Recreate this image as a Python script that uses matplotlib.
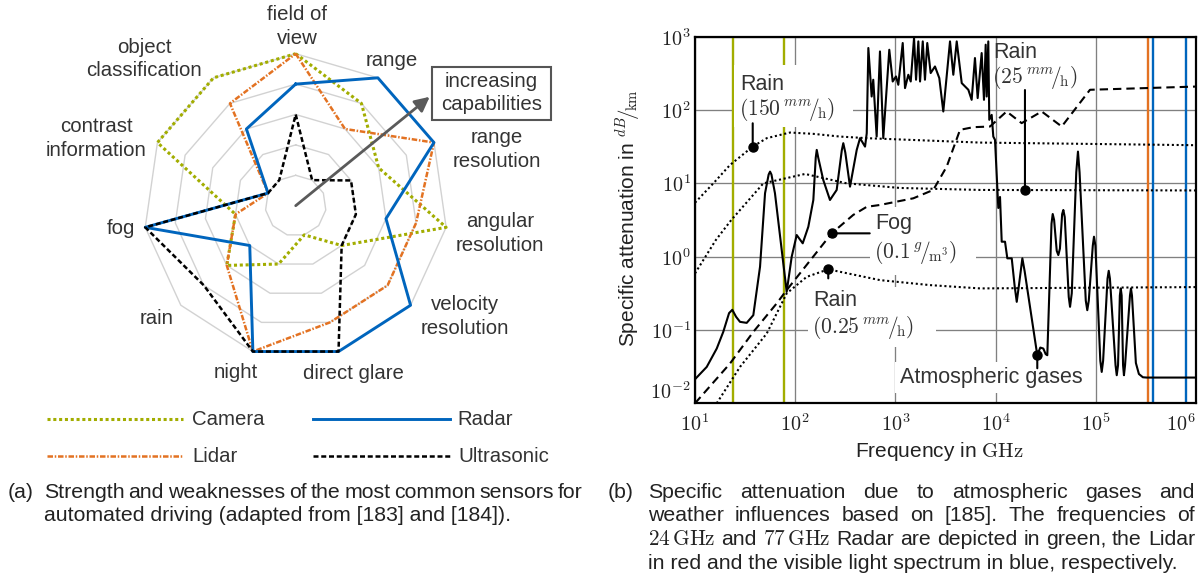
import numpy as np
import matplotlib
matplotlib.use("Agg")
import matplotlib.pyplot as plt
from matplotlib.patches import Rectangle

plt.rcParams["font.family"] = ["Liberation Sans", "DejaVu Sans"]
plt.rcParams["mathtext.fontset"] = "cm"
plt.rcParams["mathtext.default"] = "rm"

GREEN = "#A2AD00"
ORANGE = "#E37222"
BLUE = "#0065BD"
TXT = "#333333"
CAP = "#222222"

# ---------------------------------------------------------------- sensor ratings
criteria = ["field of view", "range", "range resolution", "angular resolution",
            "velocity resolution", "direct glare", "night", "rain", "fog",
            "contrast information", "object classification"]
camera = [5, 4, 3, 5, 2, 1, 2, 3, 2, 5, 5]
lidar = [5, 3, 5, 4, 4, 4, 5, 3, 2, 1, 4]
radar = [4, 5, 5, 3, 5, 5, 5, 2, 5, 1, 3]
ultrasonic = [3, 1, 2, 2, 2, 5, 5, 4, 5, 1, 1]
grid_levels = [1, 2, 3, 4, 5]

# ---------------------------------------------------------------- attenuation curves
# values are stored as log10(frequency / GHz) and log10(attenuation / (dB/km))
gas_logf = [1.000, 1.117, 1.217, 1.282, 1.340, 1.372, 1.410, 1.449, 1.516, 1.582,
            1.649, 1.699, 1.735, 1.749, 1.763, 1.798, 1.865, 1.915, 1.965, 2.015,
            2.075, 2.131, 2.181, 2.205, 2.215, 2.230, 2.280, 2.347, 2.414, 2.465,
            2.480, 2.500, 2.547, 2.614, 2.647, 2.697, 2.714,
            2.730, 2.763, 2.779, 2.813, 2.846, 2.879, 2.939, 2.973, 3.006, 3.029,
            3.073, 3.096, 3.129, 3.153, 3.186, 3.206, 3.229, 3.246, 3.273, 3.295,
            3.318, 3.352, 3.395, 3.438, 3.478, 3.545, 3.578, 3.612, 3.662, 3.728,
            3.761, 3.794, 3.821, 3.861, 3.884, 3.901, 3.911, 3.927, 3.937, 3.961,
            3.977,
            3.994, 4.011, 4.027, 4.044, 4.061, 4.094, 4.117, 4.161, 4.190, 4.211,
            4.232, 4.267, 4.290, 4.416, 4.446, 4.476, 4.500, 4.516, 4.540, 4.558,
            4.570, 4.584, 4.610, 4.626, 4.642, 4.664, 4.676, 4.690, 4.730, 4.743,
            4.760, 4.805, 4.822, 4.838, 4.900, 4.915, 4.930, 4.970, 4.982, 4.996,
            5.045, 5.059, 5.073, 5.117, 5.129, 5.141, 5.197, 5.209, 5.222, 5.240,
            5.249, 5.258, 5.272, 5.281, 5.292, 5.341, 5.351, 5.361, 5.400, 5.430,
            5.470, 5.508, 6.000]
gas_loga = [-1.672, -1.504, -1.253, -1.026, -0.770, -0.725, -0.820, -0.889, -0.903, -0.798,
            -0.138, 0.865, 1.120, 1.160, 1.120, 0.865, 0.090, -0.480, -0.001, 0.295,
            0.182, 0.408, 0.773, 1.350, 1.456, 1.350, 1.046, 0.773, 0.910, 1.450,
            1.548, 1.420, 0.955, 1.456, 1.616, 1.501, 1.684,
            2.846, 2.184, 2.413, 1.638, 2.799, 1.616, 2.822, 2.389, 2.458, 2.344,
            2.914, 2.299, 2.481, 2.389, 2.982, 2.413, 2.936, 2.389, 2.936, 2.413,
            2.914, 2.504, 2.594, 2.436, 1.980, 2.936, 2.481, 2.936, 2.367, 2.276,
            2.139, 2.709, 2.163, 2.777, 2.139, 2.891, 2.184, 2.936, 1.866, 1.934,
            1.638,
            1.593, 1.115, 0.664, 0.814, 0.204, 0.204, -0.023, -0.023, -0.400, -0.616,
            -0.400, -0.023, -0.200, -1.344, -1.240, -1.253, -1.330, -1.344, -0.300, 0.450,
            0.582, 0.500, 0.080, 0.022, 0.110, 0.580, 0.637, 0.540, -0.550, -0.684,
            -0.500, 1.150, 1.433, 1.150, -0.600, -0.730, -0.600, 0.150, 0.272, 0.150,
            -1.420, -1.572, -1.420, -0.300, -0.193, -0.300, -1.480, -1.617, -1.480, -0.530,
            -0.433, -0.530, -1.480, -1.617, -1.480, -0.530, -0.433, -0.530, -1.450, -1.600,
            -1.645, -1.649, -1.649]

fog_logf = [1.000, 1.349, 1.582, 1.815, 1.915, 2.364, 2.580, 2.714, 2.846, 3.179,
            3.378, 3.512, 3.645, 3.778, 3.944, 4.110, 4.260, 4.460, 4.660, 4.942, 6.000]
fog_loga = [-2.000, -1.458, -1.026, -0.638, -0.456, 0.318, 0.570, 0.680, 0.705, 0.796,
            0.910, 1.228, 1.730, 1.766, 1.775, 1.980, 1.821, 1.980, 1.775, 2.276, 2.320]

rain150_logf = [1.000, 1.183, 1.349, 1.576, 1.716, 1.948, 2.180, 2.447, 2.714, 3.844, 6.000]
rain150_loga = [0.736, 1.000, 1.250, 1.501, 1.616, 1.693, 1.675, 1.638, 1.616, 1.556, 1.520]

rain25_logf = [1.000, 1.208, 1.362, 1.682, 2.098, 2.514, 3.046, 3.844, 6.000]
rain25_loga = [-0.228, 0.227, 0.500, 1.000, 1.128, 1.000, 0.937, 0.910, 0.903]

rain025_logf = [1.217, 1.449, 1.716, 1.915, 2.115, 2.330, 2.846, 3.345, 3.844, 6.000]
rain025_loga = [-2.000, -1.504, -1.048, -0.501, -0.275, -0.173, -0.320, -0.388, -0.433, -0.415]

# annotated points: rain 150, rain 25, fog, rain 0.25, atmospheric gases
pin_logf = [1.576, 4.293, 2.364, 2.330, 4.416]
pin_loga = [1.501, 0.909, 0.318, -0.173, -1.344]

# radar bands: 24 GHz / 77 GHz, lidar, visible light limits (GHz)
radar_bands = [24, 77]
lidar_band = [3.34e5]
visible_bands = [3.7e5, 7.9e5]

xticks = [1e1, 1e2, 1e3, 1e4, 1e5, 1e6]
xlabels = [r"$10^{1}$", r"$10^{2}$", r"$10^{3}$", r"$10^{4}$", r"$10^{5}$", r"$10^{6}$"]
yticks = [1e-2, 1e-1, 1e0, 1e1, 1e2, 1e3]
ylabels = [r"$10^{-2}$", r"$10^{-1}$", r"$10^{0}$", r"$10^{1}$", r"$10^{2}$", r"$10^{3}$"]


def pw(v):
    return np.power(10.0, np.asarray(v, dtype=float))


W, H = 1203, 578
fig = plt.figure(figsize=(W / 100, H / 100), dpi=100)

# full-figure overlay in pixel units for labels, legend and captions
ov = fig.add_axes([0, 0, 1, 1])
ov.set_xlim(0, W)
ov.set_ylim(H, 0)
ov.set_axis_off()

# ================================================================ (a) radar chart
cx, cy, R = 295.7, 205.7, 152.0
pax = fig.add_axes([(cx - R) / W, 1 - (cy + R) / H, 2 * R / W, 2 * R / H],
                   projection="polar")
pax.set_theta_zero_location("N")
pax.set_theta_direction(-1)
pax.set_ylim(0, 5)
pax.set_axis_off()

theta = np.linspace(0, 2 * np.pi, len(criteria), endpoint=False)
th_c = np.append(theta, theta[0])


def closed(v):
    return np.append(v, v[0])


for lvl in grid_levels:
    pax.plot(th_c, [lvl] * len(th_c), color="#d2d2d2", lw=1.0, zorder=1, clip_on=False)

pax.plot(th_c, closed(camera), color=GREEN, lw=2.2, ls=(0, (1, 0.9)), zorder=2, clip_on=False)
pax.plot(th_c, closed(lidar), color=ORANGE, lw=1.8, ls=(0, (2.2, 0.7, 0.6, 0.7)), zorder=3, clip_on=False)
pax.plot(th_c, closed(radar), color=BLUE, lw=2.1, zorder=4, clip_on=False)
pax.plot(th_c, closed(ultrasonic), color="black", lw=1.8, ls=(0, (2.0, 1.1)), zorder=5, clip_on=False)

pax.annotate("", xy=(np.deg2rad(50.9), 5.68), xytext=(0, 0),
             arrowprops=dict(arrowstyle="-|>", color="#5a5a5a", lw=2.0,
                             mutation_scale=22, shrinkA=0, shrinkB=0),
             annotation_clip=False, zorder=6)

# criterion labels (pixel positions of the visual line centres)
radar_label_lines = [
    ("field of", 297, 14), ("view", 297, 38),
    ("range", 392, 60),
    ("range", 497, 137), ("resolution", 497, 161),
    ("angular", 500, 221), ("resolution", 500, 245),
    ("velocity", 465, 304), ("resolution", 465, 328),
    ("direct glare", 353, 373),
    ("night", 236, 372),
    ("rain", 157, 318),
    ("fog", 121, 228),
    ("contrast", 96, 126), ("information", 96, 150),
    ("object", 144, 47), ("classification", 144, 70),
]
for s, x, y in radar_label_lines:
    ov.text(x, y + 6, s, ha="center", va="baseline", fontsize=14.7, color=TXT)

ov.add_patch(Rectangle((432, 67), 119, 53, facecolor="white", edgecolor="#555555", lw=1.5, zorder=3))
ov.text(491.5, 87, "increasing", ha="center", va="baseline", fontsize=14.7, color=TXT, zorder=4)
ov.text(491.5, 110, "capabilities", ha="center", va="baseline", fontsize=14.7, color=TXT, zorder=4)

# legend
ov.plot([47, 183], [419, 419], color=GREEN, lw=2.2, ls=(0, (1, 0.9)))
ov.plot([313, 450], [419, 419], color=BLUE, lw=2.1)
ov.plot([47, 183], [456, 456], color=ORANGE, lw=1.8, ls=(0, (2.2, 0.7, 0.6, 0.7)))
ov.plot([313, 450], [456, 456], color="black", lw=1.8, ls=(0, (2.0, 1.1)))
for s, x, y in [("Camera", 192, 419), ("Radar", 457, 419), ("Lidar", 192, 456), ("Ultrasonic", 458, 456)]:
    ov.text(x, y + 6, s, ha="left", va="baseline", fontsize=14.7, color=TXT)

# ================================================================ (b) attenuation plot
ax = fig.add_axes([695 / W, 1 - 403.3 / H, (1196 - 695) / W, (403.3 - 36.7) / H])
ax.set_xscale("log")
ax.set_yscale("log")
ax.set_axisbelow(True)
ax.grid(True, which="major", color="#808080", lw=0.95)

for f in radar_bands:
    ax.axvline(f, color=GREEN, lw=1.7, zorder=1)
for f in lidar_band:
    ax.axvline(f, color=ORANGE, lw=1.7, zorder=1)
for f in visible_bands:
    ax.axvline(f, color=BLUE, lw=1.7, zorder=1)

# white label backgrounds (pixel boxes)
for x0, y0, x1, y1 in [(734, 65, 853, 127), (870, 207, 976, 275),
                       (808, 287, 936, 347), (895, 362, 1087, 393)]:
    ax.add_artist(Rectangle((x0, y0), x1 - x0, y1 - y0, transform=ov.transData,
                            facecolor="white", edgecolor="none", zorder=1.5))

ax.plot(pw(rain150_logf), pw(rain150_loga), color="black", lw=1.5, ls=(0, (1, 1.3)), zorder=3)
ax.plot(pw(rain25_logf), pw(rain25_loga), color="black", lw=1.5, ls=(0, (1, 1.3)), zorder=3)
ax.plot(pw(rain025_logf), pw(rain025_loga), color="black", lw=1.5, ls=(0, (1, 1.3)), zorder=3)
ax.plot(pw(fog_logf), pw(fog_loga), color="black", lw=1.5, ls=(0, (4.0, 2.4)), zorder=3)
ax.plot(pw(gas_logf), pw(gas_loga), color="black", lw=1.5, zorder=3.2, solid_joinstyle="round")

pin_offsets = [(0, 16.8), (0, 72), (27.4, 0), (0, -6.5), (0, -9.4)]
for f, a, off in zip(pw(pin_logf), pw(pin_loga), pin_offsets):
    ax.annotate("", xy=(f, a), xytext=off, textcoords="offset points",
                arrowprops=dict(arrowstyle="-", color="black", lw=1.5, shrinkA=0, shrinkB=0),
                zorder=4)
ax.plot(pw(pin_logf), pw(pin_loga), "o", color="black", ms=6.5, zorder=5)

right_labels = [
    ("Rain", 740, 90),
    (r"$(150\,{}^{\mathit{mm}}\!/\!{}_{\mathrm{h}})$", 739, 115),
    ("Rain", 993, 58),
    (r"$(25\,{}^{\mathit{mm}}\!/\!{}_{\mathrm{h}})$", 992, 83),
    ("Fog", 875, 229),
    (r"$(0.1\,{}^{\mathit{g}}\!/\!{}_{\mathrm{m}^{3}})$", 874, 258),
    ("Rain", 813, 306),
    (r"$(0.25\,{}^{\mathit{mm}}\!/\!{}_{\mathrm{h}})$", 812, 333),
    ("Atmospheric gases", 900, 383),
]
for s, x, y in right_labels:
    ax.text(x, y, s, transform=ov.transData, ha="left", va="baseline",
            fontsize=15.5, color=TXT, zorder=2)

ax.set_xticks(xticks)
ax.set_xticklabels(xlabels)
ax.set_yticks(yticks)
ax.set_yticklabels(ylabels)
ax.minorticks_off()
ax.set_xlim(1e1, 1e6)
ax.set_ylim(1e-2, 1e3)
ax.tick_params(length=0, labelsize=14.5, labelcolor=CAP)
ax.tick_params(axis="x", pad=7)
ax.tick_params(axis="y", pad=3)
ax.get_yticklabels()[0].set_va("bottom")
ax.get_xticklabels()[-1].set_ha("right")
for sp in ax.spines.values():
    sp.set_linewidth(1.6)
    sp.set_color("black")
    sp.set_zorder(6)

ov.text(628, 218, r"Specific attenuation in ${}^{\mathit{dB}}\!/\!{}_{\mathrm{km}}$",
        rotation=90, ha="center", va="center", fontsize=15, color=CAP)
ov.text(939, 457, r"Frequency in $\mathrm{GHz}$", ha="center", va="baseline",
        fontsize=15, color=CAP)

# ================================================================ captions
renderer = fig.canvas.get_renderer()
CAP_FS = 15.3


def justified(words, x0, x1, yb, fs=CAP_FS):
    items = [ov.text(0, yb, w, ha="left", va="baseline", fontsize=fs, color=CAP) for w in words]
    widths = [t.get_window_extent(renderer=renderer).width for t in items]
    gap = (x1 - x0 - sum(widths)) / (len(items) - 1)
    x = x0
    for t, w in zip(items, widths):
        t.set_x(x)
        x += w + gap


ov.text(8, 498, "(a)", ha="left", va="baseline", fontsize=CAP_FS, color=CAP)
justified("Strength and weaknesses of the most common sensors for".split(), 44, 583, 498)
ov.text(44, 521, "automated driving (adapted from [183] and [184]).",
        ha="left", va="baseline", fontsize=CAP_FS, color=CAP)

ov.text(608, 498, "(b)", ha="left", va="baseline", fontsize=CAP_FS, color=CAP)
justified("Specific attenuation due to atmospheric gases and".split(), 648, 1195, 498)
justified("weather influences based on [185]. The frequencies of".split(), 648, 1195, 521)
justified([r"$24\,\mathrm{GHz}$", "and", r"$77\,\mathrm{GHz}$", "Radar", "are", "depicted",
           "in", "green,", "the", "Lidar"], 648, 1195, 545)
ov.text(648, 569, "in red and the visible light spectrum in blue, respectively.",
        ha="left", va="baseline", fontsize=CAP_FS, color=CAP)

fig.savefig("out.png", dpi=100)
